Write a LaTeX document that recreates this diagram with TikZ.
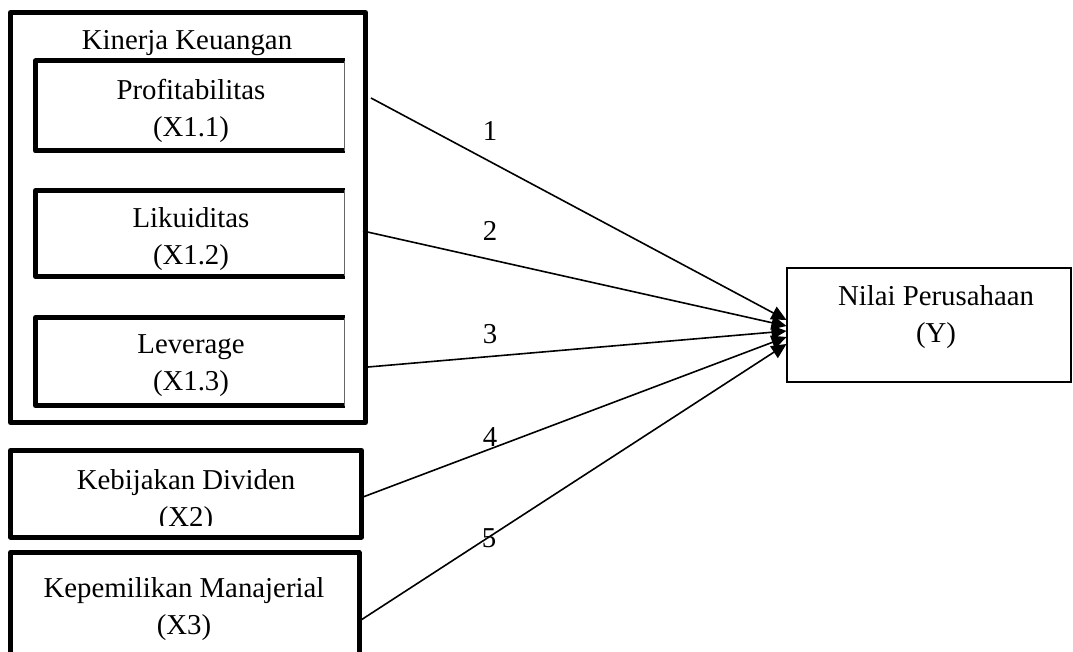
\documentclass[tikz,border=0pt]{standalone}
\usepackage{fontspec}
\setmainfont{Liberation Serif}
\usetikzlibrary{arrows.meta,calc}

\tikzset{
  thickbox/.style={draw, line width=5pt, line join=round, inner sep=0pt, outer sep=0pt},
  openbox/.style={inner sep=0pt, outer sep=0pt},
  thinbox/.style={draw, line width=2pt, inner sep=0pt, outer sep=0pt},
  lbl/.style={font=\fontsize{28.8}{37}\selectfont, align=center, inner sep=0pt},
  arr/.style={line width=1.6pt, -{Triangle[length=15pt,width=14pt]}}
}

\begin{document}
\begin{tikzpicture}[x=1pt,y=-1pt]
\clip (0,0) rectangle (1073,652);
\fill[white] (0,0) rectangle (1073,652);

% Kinerja Keuangan
\node[thickbox, minimum width=355pt, minimum height=410pt] (kinerja) at (188,217.5) {};
\node[lbl, anchor=base] (kinerjalbl) at (187,50) {Kinerja Keuangan};

% Inner boxes
\node[openbox, minimum width=309pt, minimum height=90pt] (prof) at (190,106) {};
\node[openbox, minimum width=309pt, minimum height=86pt] (likuid) at (190,233.5) {};
\node[openbox, minimum width=309pt, minimum height=88pt] (lev) at (190,361.5) {};
\foreach \b in {prof,likuid,lev}{
  \draw[line width=5pt, line join=round] (\b.north east) -- (\b.north west) -- (\b.south west) -- (\b.south east);
  \draw[line width=0.8pt, black!60] (\b.north east) -- (\b.south east);
}
\node[lbl] (proflbl) at (191,111) {Profitabilitas\\(X1.1)};
\node[lbl] (likuidlbl) at (191,239) {Likuiditas\\(X1.2)};
\node[lbl] (levlbl) at (191,366) {Leverage\\(X1.3)};

% Other variables
\node[thickbox, minimum width=351pt, minimum height=86.5pt] (divid) at (186,493.75) {};
\begin{scope}
  \clip (divid.north west) rectangle ($(divid.south east)+(0,-12)$);
  \node[lbl] (dividlbl) at (186,501) {Kebijakan Dividen\\(X2)};
\end{scope}
\node[thickbox, minimum width=348.5pt, minimum height=127.5pt] (manaj) at (184.75,616.25) {};
\node[lbl] (manajlbl) at (184,609) {Kepemilikan Manajerial\\(X3)};

% Dependent variable
\node[thinbox, minimum width=284.5pt, minimum height=113pt] (nilai) at (928.75,325) {};
\node[lbl] (nilailbl) at (936,317) {Nilai Perusahaan\\(Y)};

% Arrows
\coordinate (s1) at (371,98);
\coordinate (s2) at (363,231);
\coordinate (s3) at (368,367);
\coordinate (s4) at (363,497);
\coordinate (s5) at (361,620);
\foreach \i/\dy in {1/-5,2/1,3/6,4/12,5/19}{
  \draw[arr] (s\i) -- ($(nilai.west)+(0,\dy)$);
}

% Labels
\node[lbl] (n1) at (490,131) {1};
\node[lbl] (n2) at (490,231) {2};
\node[lbl] (n3) at (490,334) {3};
\node[lbl] (n4) at (490,437) {4};
\node[lbl] (n5) at (489,538) {5};
\end{tikzpicture}
\end{document}
